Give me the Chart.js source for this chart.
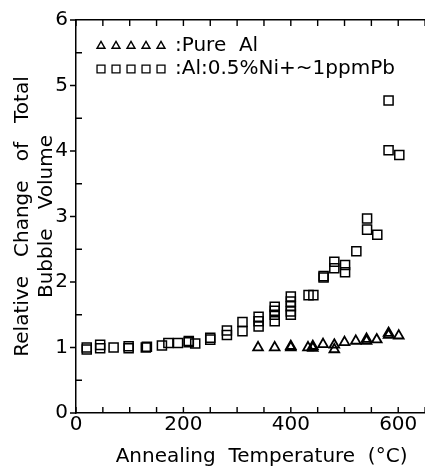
<!DOCTYPE html>
<html>
<head>
<meta charset="utf-8">
<script src="https://cdn.jsdelivr.net/npm/chart.js@4/dist/chart.umd.min.js"></script>
<style>
  html, body { margin: 0; padding: 0; background: #fff; overflow: hidden; }
  #wrap { width: 455px; height: 470px; }
</style>
</head>
<body>
<div id="wrap"><canvas id="chart" width="455" height="470"></canvas></div>
<script>
  // Al:0.5%Ni + ~1ppm Pb (squares)
  const sqTemp = [20, 20, 45, 45, 70, 98, 98, 130, 132, 160, 172, 190, 210, 210, 222, 250, 250,
    281, 281, 310, 310, 340, 340, 340, 370, 370, 370, 370, 400, 400, 400, 400, 400,
    433, 442, 461, 461, 481, 481, 501, 501, 522, 542, 542, 561, 582, 582, 602];
  const sqVal = [1.00, 0.97, 1.04, 0.99, 1.00, 1.02, 0.99, 1.00, 1.01, 1.03, 1.07, 1.07, 1.10, 1.08, 1.06, 1.15, 1.12,
    1.26, 1.19, 1.39, 1.25, 1.47, 1.40, 1.32, 1.62, 1.56, 1.50, 1.40, 1.78, 1.70, 1.63, 1.55, 1.50,
    1.80, 1.80, 2.09, 2.07, 2.31, 2.21, 2.26, 2.15, 2.47, 2.97, 2.80, 2.72, 4.77, 4.01, 3.94];

  // Pure Al (triangles)
  const triTemp = [339, 370, 400, 400, 432, 441, 441, 460, 481, 481, 500, 521, 541, 541, 560, 582, 582, 601];
  const triVal = [1.00, 1.00, 1.00, 1.02, 1.00, 1.02, 0.99, 1.05, 1.04, 0.97, 1.08, 1.10, 1.13, 1.10, 1.12, 1.22, 1.19, 1.18];

  const xLabels = [0, 200, 400, 600];
  const yLabels = [0, 1, 2, 3, 4, 5, 6];
  const legendItems = [":Pure  Al", ":Al:0.5%Ni+~1ppmPb"];

  const FONT = "'DejaVu Sans', sans-serif";

  function toXY(xs, ys) {
    return xs.map(function (x, i) { return { x: x, y: ys[i] }; });
  }

  // ticks pointing into the plot, plus the hand-lettered legend
  const frame = {
    id: "frame",
    afterDraw(chart) {
      const ctx = chart.ctx;
      const a = chart.chartArea;
      const xs = chart.scales.x;
      const ys = chart.scales.y;
      ctx.save();
      ctx.strokeStyle = "#000";
      ctx.lineWidth = 1.4;
      ctx.beginPath();
      for (let v = 0; v <= xs.max; v += 50) {
        const px = xs.getPixelForValue(v);
        ctx.moveTo(px, a.bottom); ctx.lineTo(px, a.bottom - 6);
        ctx.moveTo(px, a.top); ctx.lineTo(px, a.top + 6);
      }
      for (let v = 0; v <= 6; v += 0.5) {
        const py = ys.getPixelForValue(v);
        if (v % 1 === 0) { ctx.moveTo(a.left - 6, py); ctx.lineTo(a.left, py); }
        else { ctx.moveTo(a.left, py); ctx.lineTo(a.left + 6, py); }
      }
      ctx.stroke();

      // legend
      const styles = ["triangle", "rect"];
      const radii = [4.6, 5.6];
      const rowsY = [46, 69];
      for (let r = 0; r < 2; r++) {
        ctx.fillStyle = "rgba(0,0,0,0)";
        ctx.lineWidth = r === 0 ? 1.4 : 1.3;
        for (let k = 0; k < 5; k++) {
          Chart.helpers.drawPoint(ctx, {
            pointStyle: styles[r], radius: radii[r], borderWidth: ctx.lineWidth, rotation: 0
          }, 101 + k * 15, rowsY[r]);
        }
        ctx.fillStyle = "#000";
        ctx.font = "20px " + FONT;
        ctx.textBaseline = "middle";
        ctx.fillText(legendItems[r], 175, rowsY[r]);
      }
      ctx.restore();
    }
  };

  const data = {
    datasets: [
      {
        label: "Pure Al",
        data: toXY(triTemp, triVal),
        pointStyle: "triangle",
        pointRadius: 5.6,
        pointBorderWidth: 1.8,
        pointBorderColor: "#000",
        pointBackgroundColor: "rgba(0,0,0,0)",
      },
      {
        label: "Al:0.5%Ni+~1ppmPb",
        data: toXY(sqTemp, sqVal),
        pointStyle: "rect",
        pointRadius: 6.4,
        pointBorderWidth: 1.5,
        pointBorderColor: "#000",
        pointBackgroundColor: "rgba(0,0,0,0)",
      },
    ],
  };

  const config = {
    type: "scatter",
    data: data,
    options: {
      responsive: false,
      animation: false,
      layout: { padding: 0 },
      plugins: {
        legend: { display: false },
        tooltip: { enabled: false },
      },
      scales: {
        x: {
          type: "linear",
          position: "bottom",
          min: 0,
          max: 691,
          afterBuildTicks: function (scale) {
            scale.ticks = xLabels.map(function (v) { return { value: v }; });
          },
          afterFit: function (scale) { scale.height = 57; },
          grid: { drawOnChartArea: false, drawTicks: false },
          border: { color: "#000", width: 1.5 },
          ticks: {
            color: "#000",
            padding: 0,
            maxRotation: 0,
            font: { family: FONT, size: 20 },
          },
          title: {
            display: true,
            text: "Annealing  Temperature  (°C)",
            color: "#000",
            font: { family: FONT, size: 20 },
            padding: { top: 0, bottom: 1 },
          },
        },
        xTop: {
          type: "linear",
          position: "top",
          min: 0,
          max: 691,
          afterFit: function (scale) { scale.height = 20; },
          grid: { drawOnChartArea: false, drawTicks: false },
          border: { color: "#000", width: 1.5 },
          ticks: { display: false },
        },
        y: {
          min: 0,
          max: 6,
          afterBuildTicks: function (scale) {
            scale.ticks = yLabels.map(function (v) { return { value: v }; });
          },
          afterFit: function (scale) { scale.width = 76; },
          grid: { drawOnChartArea: false, drawTicks: false },
          border: { color: "#000", width: 1.5 },
          ticks: {
            color: "#000",
            padding: 8,
            font: { family: FONT, size: 20 },
          },
          title: {
            display: true,
            text: ["Relative   Change   of   Total", "Bubble   Volume"],
            color: "#000",
            font: { family: FONT, size: 20, lineHeight: 1.2 },
            padding: { top: 11, bottom: 0 },
          },
        },
      },
    },
    plugins: [frame],
  };

  new Chart(document.getElementById("chart"), config);
</script>
</body>
</html>
